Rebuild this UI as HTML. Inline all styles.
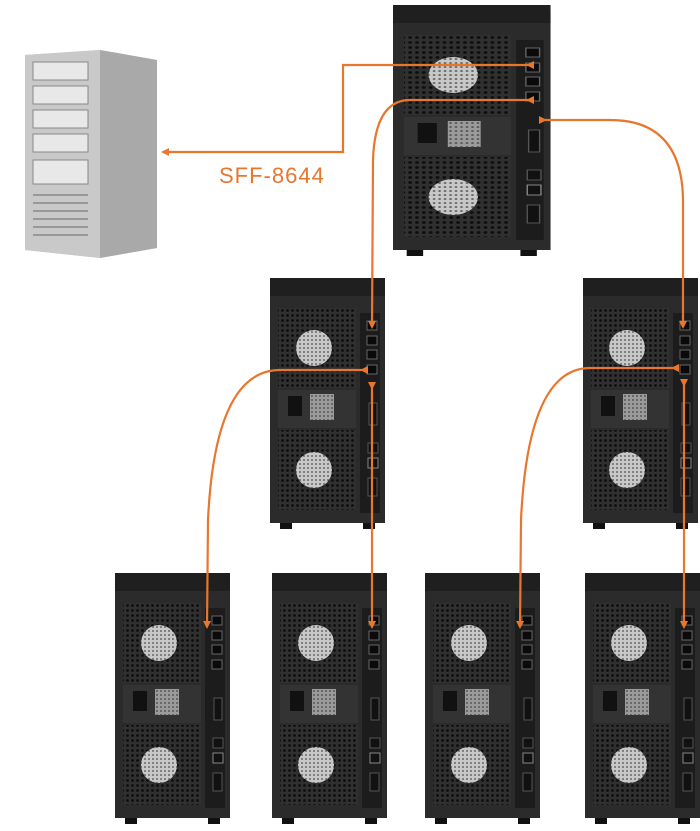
<!DOCTYPE html>
<html><head><meta charset="utf-8"><style>
html,body{margin:0;padding:0;background:#fff;width:700px;height:831px;overflow:hidden}
svg{display:block}
</style></head><body>
<svg width="700" height="831" viewBox="0 0 700 831" xmlns="http://www.w3.org/2000/svg">
<defs>
<pattern id="mesh" width="5" height="5" patternUnits="userSpaceOnUse">
<rect width="5" height="5" fill="#303030"/><circle cx="2.5" cy="2.5" r="1.4" fill="#0e0e0e"/>
</pattern>
<pattern id="fanp" width="4" height="4" patternUnits="userSpaceOnUse">
<rect width="4" height="4" fill="#c8c8c8"/><circle cx="2" cy="2" r="1" fill="#6a6a6a"/>
</pattern>
<g id="unit">
<path d="M6,0 H109 Q115,0 115,8 V245 H0 V8 Q0,0 6,0Z" fill="#2b2b2b"/>
<rect x="0" y="0" width="115" height="18" fill="#1f1f1f"/>
<rect x="8" y="30" width="78" height="80" fill="url(#mesh)"/>
<circle cx="44" cy="70" r="18" fill="url(#fanp)"/>
<rect x="8" y="112" width="78" height="38" fill="#333"/>
<rect x="18" y="118" width="14" height="20" fill="#111"/>
<rect x="40" y="116" width="24" height="26" fill="url(#fanp)" opacity="0.7"/>
<rect x="8" y="152" width="78" height="80" fill="url(#mesh)"/>
<circle cx="44" cy="192" r="18" fill="url(#fanp)"/>
<rect x="90" y="35" width="20" height="200" fill="#1c1c1c"/>
<rect x="97" y="43" width="10" height="9" fill="#0a0a0a" stroke="#666" stroke-width="1"/>
<rect x="97" y="58" width="10" height="9" fill="#0a0a0a" stroke="#666" stroke-width="1"/>
<rect x="97" y="72" width="10" height="9" fill="#0a0a0a" stroke="#666" stroke-width="1"/>
<rect x="97" y="87" width="10" height="9" fill="#0a0a0a" stroke="#666" stroke-width="1"/>
<rect x="99" y="125" width="8" height="22" fill="#111" stroke="#555"/>
<rect x="98" y="165" width="10" height="10" fill="#111" stroke="#555"/>
<rect x="98" y="180" width="10" height="10" fill="#111" stroke="#888"/>
<rect x="98" y="200" width="9" height="18" fill="#111" stroke="#555"/>
<rect x="10" y="245" width="12" height="6" fill="#111"/>
<rect x="93" y="245" width="12" height="6" fill="#111"/>
</g>
<marker id="ah" markerWidth="8" markerHeight="8" refX="6" refY="4" orient="auto" markerUnits="userSpaceOnUse">
<path d="M0,0 L8,4 L0,8Z" fill="#e8762d"/>
</marker>
</defs>

<!-- server -->
<polygon points="25,55 100,50 157,60 157,248 100,258 25,250" fill="#bdbdbd"/>
<polygon points="100,50 157,60 157,248 100,258" fill="#a9a9a9"/>
<polygon points="25,55 100,50 100,258 25,250" fill="#c9c9c9"/>
<g fill="#e8e8e8" stroke="#888" stroke-width="1">
<rect x="33" y="62" width="55" height="18"/><rect x="33" y="86" width="55" height="18"/>
<rect x="33" y="110" width="55" height="18"/><rect x="33" y="134" width="55" height="18"/>
<rect x="33" y="160" width="55" height="24"/>
</g>
<g stroke="#999" stroke-width="2">
<line x1="33" y1="195" x2="88" y2="195"/><line x1="33" y1="203" x2="88" y2="203"/>
<line x1="33" y1="211" x2="88" y2="211"/><line x1="33" y1="219" x2="88" y2="219"/>
<line x1="33" y1="227" x2="88" y2="227"/><line x1="33" y1="235" x2="88" y2="235"/>
</g>

<!-- top enclosure -->
<g transform="translate(393,5) scale(1.37,1)"><use href="#unit"/></g>
<!-- middle -->
<use href="#unit" x="270" y="278"/>
<use href="#unit" x="583" y="278"/>
<!-- bottom -->
<use href="#unit" x="115" y="573"/>
<use href="#unit" x="272" y="573"/>
<use href="#unit" x="425" y="573"/>
<use href="#unit" x="585" y="573"/>

<!-- connectors -->
<g fill="none" stroke="#e8762d" stroke-width="2.2">
<path d="M528,65 H343 V152 H163" marker-start="url(#ah)" marker-end="url(#ah)"/>
<path d="M528,100 H410 Q375,100 373,160 L372,327" marker-start="url(#ah)" marker-end="url(#ah)"/>
<path d="M545,120 H610 Q682,120 683,200 L683,327" marker-start="url(#ah)" marker-end="url(#ah)"/>
<path d="M362,370 H280 Q215,370 208,520 L207,627" marker-start="url(#ah)" marker-end="url(#ah)"/>
<path d="M372,388 V627" marker-start="url(#ah)" marker-end="url(#ah)"/>
<path d="M673,368 H590 Q528,368 521,520 L520,627" marker-start="url(#ah)" marker-end="url(#ah)"/>
<path d="M684,385 V627" marker-start="url(#ah)" marker-end="url(#ah)"/>
</g>
<text x="219" y="183" font-family="Liberation Sans, sans-serif" font-size="22" fill="#e8762d" letter-spacing="1">SFF-8644</text>
</svg>
</body></html>
